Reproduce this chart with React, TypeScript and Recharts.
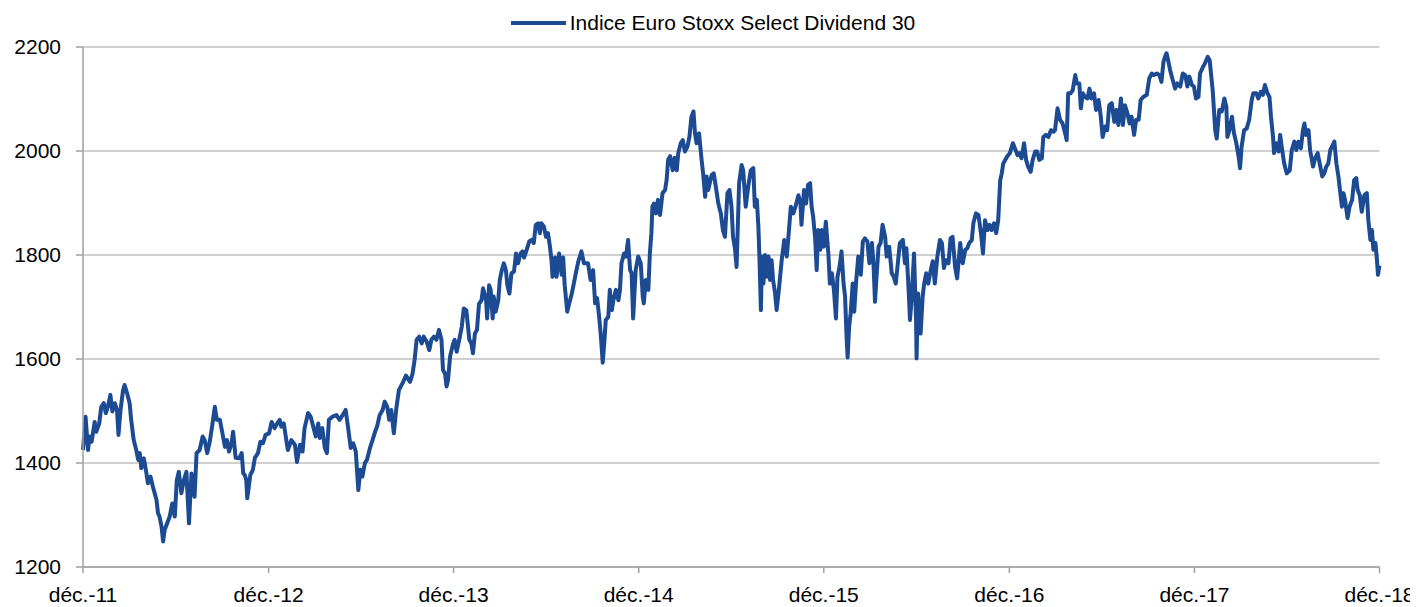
import { CartesianGrid, Legend, Line, LineChart, XAxis, YAxis } from "recharts";

const FONT = '"Liberation Sans", Arial, sans-serif';
const BLUE = "#1c4b94";

const seriesName = "Indice Euro Stoxx Select Dividend 30";
const tickDays = [0, 366, 731, 1096, 1461, 1827, 2192, 2557];
const tickLabels = ["déc.-11", "déc.-12", "déc.-13", "déc.-14", "déc.-15", "déc.-16", "déc.-17", "déc.-18"];
const yTicks = [1200, 1400, 1600, 1800, 2000, 2200];

// days since déc.-11
const days = [
	0, 5, 10, 13, 17, 23, 26, 32, 36, 41,
	45, 49, 54, 58, 63, 67, 70, 74, 79, 82,
	87, 92, 95, 100, 105, 109, 112, 115, 120, 124,
	128, 133, 138, 145, 148, 151, 155, 158, 161, 166,
	171, 176, 181, 185, 189, 194, 199, 204, 209, 214,
	220, 224, 230, 236, 240, 245, 250, 255, 260, 264,
	270, 275, 280, 284, 288, 293, 296, 301, 308, 313,
	316, 319, 322, 324, 330, 335, 339, 345, 350, 355,
	360, 367, 372, 378, 383, 388, 391, 396, 401, 404,
	411, 418, 422, 428, 433, 437, 444, 449, 454, 459,
	464, 467, 472, 477, 481, 485, 492, 500, 506, 512,
	518, 523, 528, 533, 538, 543, 547, 551, 556, 560,
	566, 571, 576, 580, 585, 591, 595, 600, 604, 608,
	613, 618, 623, 631, 637, 645, 650, 654, 658, 663,
	668, 672, 678, 683, 687, 692, 697, 702, 707, 710,
	714, 717, 720, 724, 730, 733, 737, 742, 747, 751,
	756, 762, 766, 769, 773, 777, 781, 786, 789, 795,
	797, 801, 804, 808, 810, 814, 819, 822, 826, 830,
	834, 837, 841, 845, 850, 854, 858, 863, 867, 870,
	875, 880, 885, 889, 893, 898, 901, 904, 909, 913,
	917, 921, 924, 926, 931, 934, 939, 944, 947, 950,
	955, 959, 964, 968, 972, 977, 983, 988, 996, 1001,
	1006, 1010, 1014, 1018, 1021, 1025, 1028, 1031, 1036, 1039,
	1043, 1046, 1051, 1056, 1059, 1062, 1067, 1071, 1075, 1079,
	1082, 1085, 1090, 1095, 1100, 1104, 1106, 1110, 1115, 1118,
	1121, 1123, 1126, 1130, 1134, 1138, 1143, 1148, 1151, 1154,
	1158, 1163, 1167, 1171, 1174, 1179, 1183, 1187, 1192, 1196,
	1200, 1204, 1207, 1210, 1215, 1220, 1223, 1227, 1230, 1233,
	1236, 1240, 1244, 1248, 1253, 1258, 1262, 1266, 1271, 1275,
	1279, 1282, 1286, 1289, 1294, 1299, 1302, 1307, 1312, 1317,
	1322, 1325, 1329, 1332, 1334, 1337, 1339, 1342, 1345, 1348,
	1352, 1355, 1358, 1361, 1365, 1368, 1373, 1378, 1383, 1388,
	1391, 1396, 1401, 1406, 1411, 1415, 1417, 1422, 1426, 1430,
	1434, 1437, 1440, 1444, 1447, 1450, 1454, 1457, 1461, 1465,
	1470, 1473, 1477, 1481, 1485, 1488, 1492, 1496, 1500, 1503,
	1506, 1508, 1511, 1514, 1518, 1521, 1525, 1529, 1534, 1538,
	1542, 1547, 1551, 1556, 1559, 1562, 1565, 1569, 1573, 1577,
	1582, 1585, 1590, 1595, 1599, 1603, 1611, 1617, 1621, 1624,
	1628, 1631, 1634, 1639, 1643, 1644, 1647, 1652, 1656, 1659,
	1663, 1667, 1672, 1676, 1680, 1685, 1690, 1694, 1698, 1702,
	1707, 1711, 1715, 1720, 1724, 1730, 1735, 1740, 1744, 1748,
	1753, 1756, 1761, 1766, 1771, 1775, 1779, 1784, 1788, 1792,
	1797, 1801, 1805, 1809, 1812, 1815, 1819, 1823, 1828, 1834,
	1838, 1843, 1847, 1851, 1856, 1860, 1864, 1869, 1873, 1878,
	1882, 1886, 1891, 1894, 1899, 1904, 1909, 1914, 1917, 1922,
	1927, 1932, 1937, 1940, 1943, 1948, 1952, 1957, 1960, 1965,
	1968, 1972, 1976, 1981, 1985, 1989, 1994, 1998, 2003, 2007,
	2011, 2016, 2020, 2024, 2029, 2034, 2038, 2042, 2047, 2051,
	2055, 2060, 2064, 2068, 2073, 2077, 2082, 2086, 2091, 2098,
	2103, 2108, 2112, 2118, 2123, 2127, 2131, 2134, 2137, 2140,
	2144, 2149, 2154, 2158, 2164, 2169, 2174, 2178, 2182, 2187,
	2191, 2195, 2200, 2203, 2209, 2213, 2218, 2222, 2228, 2233,
	2236, 2241, 2246, 2251, 2255, 2257, 2261, 2266, 2270, 2274,
	2279, 2282, 2285, 2290, 2295, 2300, 2305, 2308, 2314, 2318,
	2323, 2327, 2331, 2336, 2340, 2343, 2347, 2349, 2353, 2358,
	2361, 2365, 2369, 2374, 2380, 2384, 2389, 2393, 2397, 2402,
	2406, 2409, 2412, 2417, 2420, 2426, 2430, 2435, 2439, 2444,
	2448, 2452, 2456, 2460, 2465, 2468, 2472, 2476, 2479, 2483,
	2486, 2489, 2494, 2498, 2503, 2507, 2511, 2514, 2518, 2522,
	2527, 2532, 2535, 2539, 2542, 2545, 2549, 2552, 2554, 2557,
];

const values = [
	1425, 1489, 1425, 1451, 1441, 1479, 1460, 1476, 1508, 1515,
	1496, 1508, 1531, 1499, 1515, 1502, 1454, 1502, 1540, 1550,
	1534, 1515, 1483, 1444, 1425, 1406, 1419, 1390, 1409, 1387,
	1361, 1374, 1354, 1329, 1303, 1297, 1277, 1249, 1271, 1284,
	1297, 1322, 1297, 1367, 1383, 1342, 1367, 1383, 1284, 1380,
	1335, 1419, 1425, 1451, 1444, 1419, 1441, 1473, 1508, 1483,
	1483, 1457, 1431, 1444, 1422, 1438, 1460, 1410, 1409, 1419,
	1380, 1377, 1367, 1332, 1377, 1387, 1410, 1419, 1441, 1438,
	1454, 1457, 1479, 1467, 1476, 1483, 1470, 1476, 1444, 1425,
	1444, 1435, 1402, 1435, 1422, 1467, 1496, 1489, 1470, 1451,
	1476, 1448, 1467, 1429, 1419, 1483, 1489, 1492, 1483, 1492,
	1502, 1467, 1429, 1438, 1422, 1348, 1387, 1374, 1400, 1406,
	1429, 1444, 1460, 1470, 1492, 1502, 1518, 1508, 1483, 1502,
	1457, 1505, 1540, 1555, 1568, 1556, 1572, 1598, 1637, 1643,
	1630, 1643, 1633, 1617, 1637, 1643, 1637, 1656, 1637, 1579,
	1572, 1547, 1560, 1605, 1630, 1637, 1614, 1637, 1662, 1697,
	1694, 1637, 1630, 1611, 1649, 1656, 1706, 1713, 1736, 1713,
	1678, 1742, 1733, 1678, 1720, 1691, 1713, 1752, 1771, 1784,
	1771, 1742, 1726, 1765, 1768, 1803, 1784, 1803, 1807, 1795,
	1810, 1826, 1829, 1823, 1858, 1861, 1842, 1861, 1855, 1835,
	1842, 1816, 1790, 1758, 1795, 1758, 1803, 1762, 1795, 1742,
	1691, 1707, 1726, 1745, 1765, 1788, 1807, 1784, 1784, 1752,
	1771, 1707, 1717, 1681, 1649, 1593, 1630, 1675, 1681, 1733,
	1694, 1713, 1733, 1713, 1733, 1784, 1803, 1797, 1829, 1771,
	1765, 1678, 1771, 1797, 1784, 1720, 1707, 1752, 1733, 1803,
	1842, 1893, 1899, 1880, 1906, 1877, 1919, 1925, 1944, 1983,
	1990, 1963, 1987, 1963, 1996, 2015, 2021, 1999, 2008, 2027,
	2066, 2076, 2034, 2015, 2034, 1983, 1957, 1912, 1951, 1925,
	1938, 1954, 1957, 1932, 1899, 1880, 1848, 1835, 1919, 1925,
	1893, 1835, 1811, 1777, 1938, 1973, 1963, 1893, 1932, 1963,
	1967, 1893, 1906, 1855, 1797, 1694, 1797, 1745, 1800, 1758,
	1797, 1752, 1790, 1752, 1726, 1694, 1739, 1790, 1829, 1797,
	1832, 1893, 1880, 1896, 1915, 1899, 1858, 1925, 1899, 1935,
	1938, 1893, 1874, 1832, 1771, 1848, 1810, 1848, 1816, 1864,
	1803, 1745, 1765, 1733, 1678, 1758, 1777, 1807, 1745, 1720,
	1641, 1603, 1662, 1688, 1745, 1691, 1752, 1797, 1762, 1826,
	1832, 1826, 1784, 1823, 1784, 1710, 1758, 1816, 1823, 1858,
	1835, 1797, 1816, 1765, 1758, 1745, 1823, 1829, 1784, 1813,
	1739, 1675, 1713, 1803, 1675, 1601, 1726, 1649, 1720, 1745,
	1765, 1745, 1771, 1788, 1745, 1797, 1829, 1823, 1775, 1790,
	1784, 1832, 1835, 1777, 1755, 1823, 1784, 1810, 1813, 1823,
	1829, 1861, 1880, 1877, 1842, 1803, 1867, 1848, 1858, 1848,
	1861, 1842, 1867, 1944, 1957, 1976, 1983, 1990, 1996, 2015,
	2005, 1992, 1996, 1986, 2015, 1983, 1970, 1960, 1983, 1999,
	1999, 1983, 1986, 2027, 2031, 2027, 2040, 2037, 2040, 2082,
	2060, 2053, 2034, 2021, 2111, 2111, 2117, 2146, 2130, 2130,
	2082, 2111, 2104, 2101, 2120, 2101, 2111, 2079, 2098, 2069,
	2027, 2047, 2040, 2088, 2092, 2056, 2079, 2050, 2101, 2050,
	2088, 2072, 2053, 2066, 2031, 2060, 2060, 2098, 2104, 2108,
	2140, 2149, 2146, 2149, 2146, 2133, 2172, 2181, 2188, 2175,
	2156, 2137, 2120, 2130, 2124, 2149, 2146, 2124, 2143, 2127,
	2124, 2101, 2104, 2149, 2162, 2169, 2181, 2175, 2117, 2040,
	2024, 2079, 2076, 2101, 2085, 2027, 2040, 2066, 2034, 2018,
	1990, 1967, 2008, 2040, 2043, 2060, 2098, 2111, 2111, 2101,
	2114, 2108, 2127, 2111, 2104, 2066, 2027, 1996, 2015, 1999,
	2031, 2002, 1976, 1957, 1963, 2002, 2018, 2002, 2018, 2005,
	2040, 2053, 2031, 2040, 2002, 1970, 1986, 1996, 1976, 1951,
	1957, 1970, 1976, 2002, 2012, 2018, 1976, 1951, 1925, 1893,
	1919, 1906, 1871, 1893, 1906, 1944, 1948, 1925, 1915, 1883,
	1915, 1919, 1867, 1829, 1848, 1810, 1823, 1790, 1762, 1780,
];

const data = days.map((day, i) => ({ day, value: values[i] }));

const LegendContent = () => (
	<div
		style={{
			display: "flex",
			alignItems: "center",
			justifyContent: "center",
			fontFamily: FONT,
			fontSize: 21,
			lineHeight: "24px",
			color: "#000",
		}}
	>
		<span
			style={{
				display: "inline-block",
				width: 55,
				height: 4,
				background: BLUE,
				marginRight: 4,
			}}
		/>
		<span>{seriesName}</span>
	</div>
);

const App = () => {
	const tickStyle = { fill: "#000", fontSize: 21, fontFamily: FONT };
	return (
		<div style={{ width: 1410, height: 599 }}>
			<style>{"html, body { overflow: hidden; } .recharts-surface { overflow: visible; }"}</style>
			<LineChart
				width={1410}
				height={599}
				data={data}
				margin={{ top: 39, right: 38.5, bottom: 0, left: 0 }}
			>
				<CartesianGrid vertical={false} stroke="#c0c0c0" strokeWidth={1.5} />
				<XAxis
					dataKey="day"
					type="number"
					domain={[0, 2557]}
					ticks={tickDays}
					interval={0}
					tickFormatter={(d: number) => tickLabels[tickDays.indexOf(d)]}
					height={40}
					tickSize={6}
					tickMargin={14}
					tick={tickStyle}
					axisLine={{ stroke: "#a0a0a0", strokeWidth: 1.5 }}
					tickLine={{ stroke: "#a0a0a0", strokeWidth: 1.5 }}
				/>
				<YAxis
					domain={[1200, 2200]}
					ticks={yTicks}
					interval={0}
					width={75}
					tickSize={7}
					tickMargin={15}
					tick={tickStyle}
					axisLine={{ stroke: "#a0a0a0", strokeWidth: 1.5 }}
					tickLine={{ stroke: "#a0a0a0", strokeWidth: 1.5 }}
				/>
				<Legend
					verticalAlign="middle"
					align="center"
					content={<LegendContent />}
					wrapperStyle={{ top: 3, left: 0, width: 1410 }}
				/>
				<Line
					type="linear"
					dataKey="value"
					name={seriesName}
					stroke={BLUE}
					strokeWidth={4}
					strokeLinejoin="round"
					dot={false}
					activeDot={false}
					isAnimationActive={false}
				/>
			</LineChart>
		</div>
	);
};

export default App;
